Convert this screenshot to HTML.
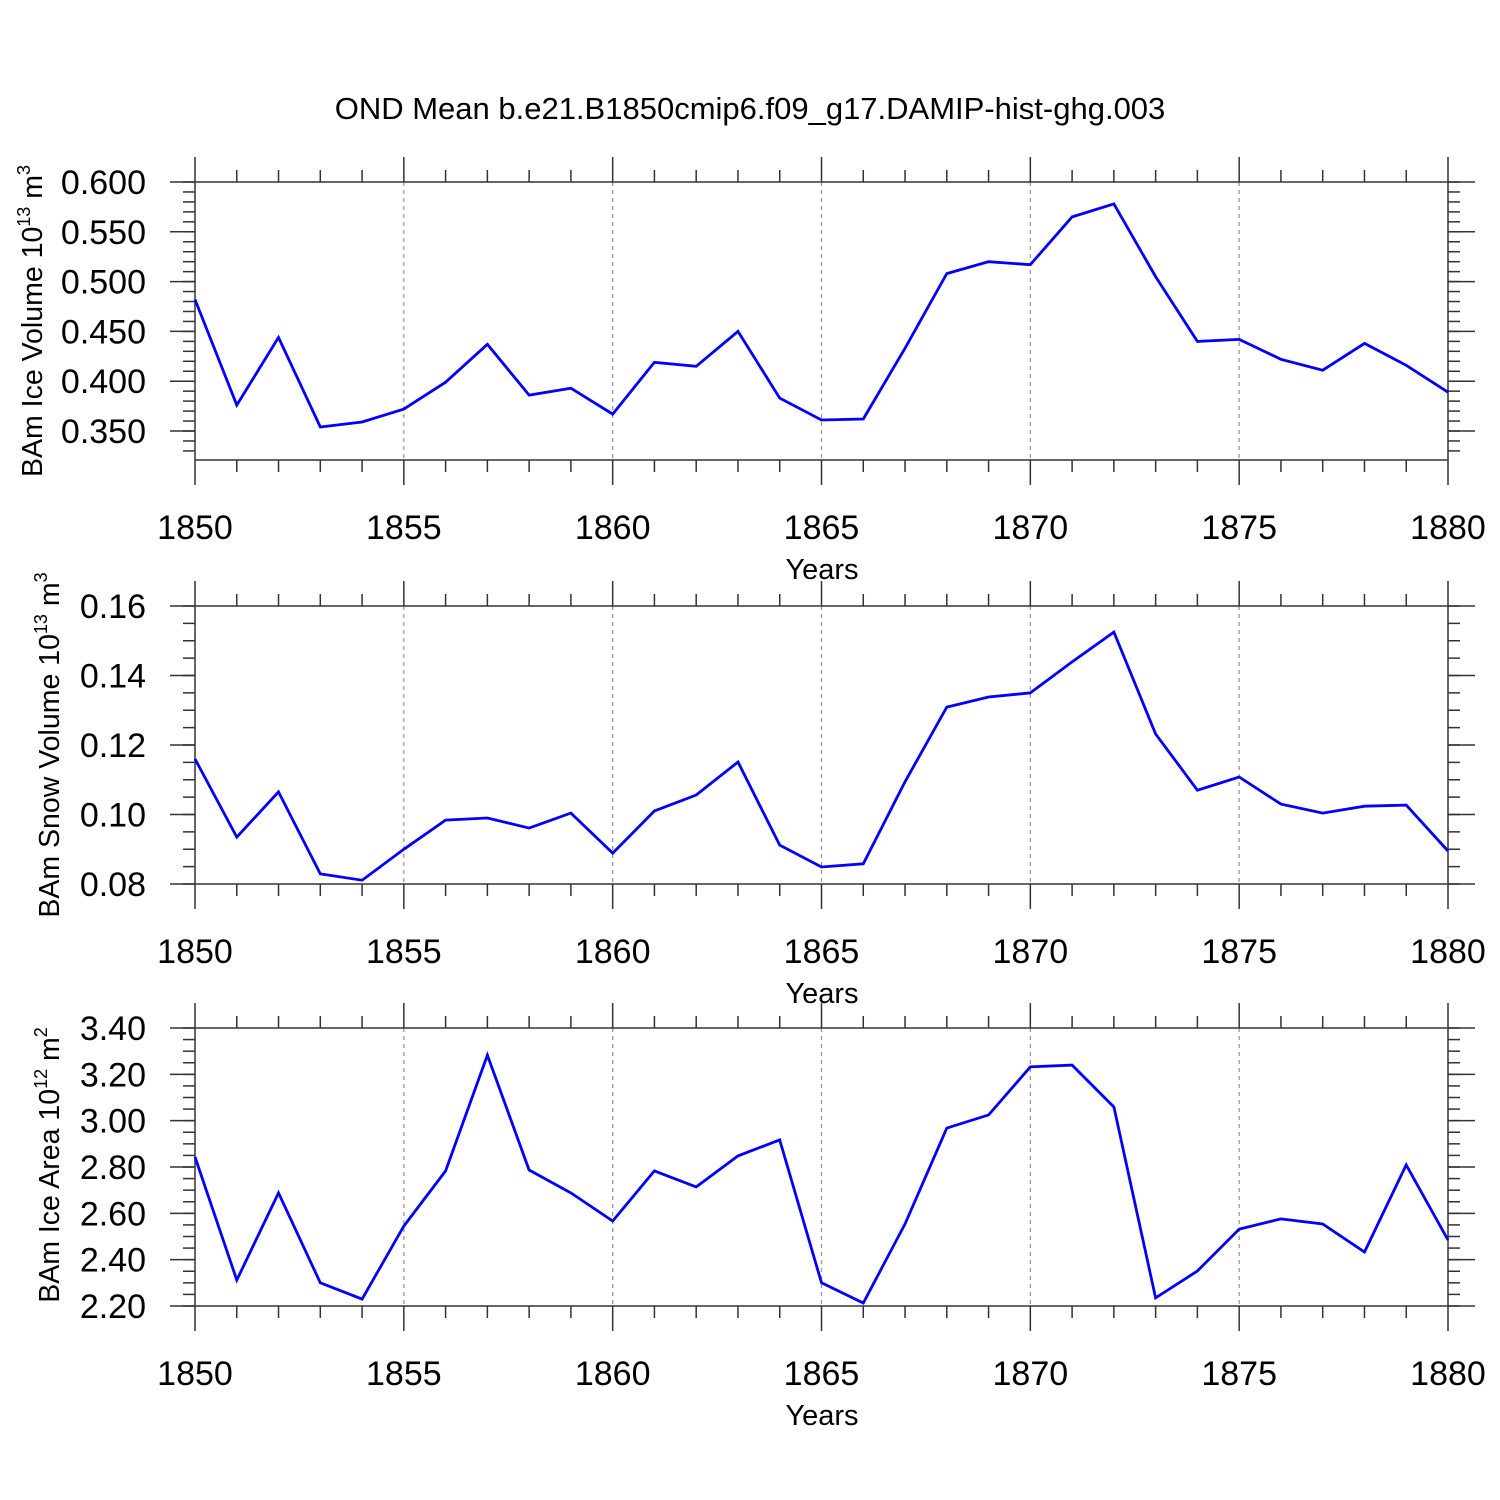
<!DOCTYPE html>
<html><head><meta charset="utf-8"><style>
html,body{margin:0;padding:0;background:#fff;}
svg{display:block;font-family:"Liberation Sans",Arial,sans-serif;}
</style></head><body>
<svg id="c" width="1500" height="1500" viewBox="0 0 1500 1500" xmlns="http://www.w3.org/2000/svg">
<text x="750" y="119" font-size="31" text-anchor="middle">OND Mean b.e21.B1850cmip6.f09_g17.DAMIP-hist-ghg.003</text>
</svg>
<script>
const years = [1850,1851,1852,1853,1854,1855,1856,1857,1858,1859,1860,1861,1862,1863,1864,1865,1866,1867,1868,1869,1870,1871,1872,1873,1874,1875,1876,1877,1878,1879,1880];
const iceVolume = [0.482,0.376,0.444,0.354,0.359,0.372,0.399,0.437,0.386,0.393,0.367,0.419,0.415,0.450,0.383,0.361,0.362,0.433,0.508,0.520,0.517,0.565,0.578,0.505,0.440,0.442,0.422,0.411,0.438,0.416,0.389];
const snowVolume = [0.116,0.0935,0.1065,0.0829,0.0811,0.090,0.0984,0.099,0.0961,0.1004,0.0889,0.101,0.1056,0.1151,0.0912,0.0849,0.0858,0.1094,0.1309,0.1338,0.135,0.1439,0.1525,0.1232,0.107,0.1108,0.103,0.1004,0.1024,0.1027,0.0895];
const iceArea = [2.843,2.312,2.688,2.30,2.230,2.545,2.783,3.283,2.787,2.688,2.567,2.783,2.714,2.848,2.917,2.30,2.213,2.554,2.968,3.025,3.232,3.240,3.059,2.235,2.351,2.532,2.576,2.554,2.433,2.809,2.485];
const xTickLabels = ["1850","1855","1860","1865","1870","1875","1880"];
const iceVolTicks = ["0.350","0.400","0.450","0.500","0.550","0.600"];
const snowTicks = ["0.08","0.10","0.12","0.14","0.16"];
const areaTicks = ["2.20","2.40","2.60","2.80","3.00","3.20","3.40"];

const NS="http://www.w3.org/2000/svg";
const svg=document.getElementById('c');
function mk(tag,attrs,parent){const e=document.createElementNS(NS,tag);for(const k in attrs)e.setAttribute(k,attrs[k]);(parent||svg).appendChild(e);return e;}
const X0=195,X1=1448,XMIN=1850,XMAX=1880;
const xs=v=>X0+(v-XMIN)/(XMAX-XMIN)*(X1-X0);

function panel(cfg){
  const g=mk('g',{});
  
  
  const ys=v=>cfg.top+(cfg.vmax-v)/(cfg.vmax-cfg.vmin)*(cfg.bot-cfg.top);
  for(let yr=1855;yr<=1875;yr+=5){
    const l=mk('line',{x1:xs(yr),x2:xs(yr),y1:cfg.top,y2:cfg.bot,stroke:'#999','stroke-width':1.3,'stroke-dasharray':'4,4'},g);
    
    
  }
  const st={stroke:'#333','stroke-width':1.5};
  mk('rect',{x:X0,y:cfg.top,width:X1-X0,height:cfg.bot-cfg.top,fill:'none',...st},g);
  for(let yr=XMIN;yr<=XMAX;yr++){
    const major=(yr%5===0), L=major?25:12, x=xs(yr);
    mk('line',{x1:x,x2:x,y1:cfg.top,y2:cfg.top-L,...st},g);
    mk('line',{x1:x,x2:x,y1:cfg.bot,y2:cfg.bot+L,...st},g);
  }
  xTickLabels.forEach(t=>{
    const tx=mk('text',{x:xs(+t),y:cfg.bot+79,'font-size':34,'text-anchor':'middle'},g);
    tx.textContent=t;
    
    
  });
  const xt=mk('text',{x:822,y:cfg.bot+119,'font-size':29,'text-anchor':'middle'},g);
  xt.textContent='Years';
  
  
  const n=Math.round((cfg.vmax-cfg.vmin)/cfg.minor);
  for(let i=0;i<=n;i++){
    const v=cfg.vmax-i*cfg.minor, y=ys(v);
    if(y>cfg.bot+0.5) break;
    mk('line',{x1:X0,x2:X0-12,y1:y,y2:y,...st},g);
    mk('line',{x1:X1,x2:X1+12,y1:y,y2:y,...st},g);
  }
  cfg.ticks.forEach(t=>{
    const y=ys(parseFloat(t));
    mk('line',{x1:X0,x2:X0-25,y1:y,y2:y,...st},g);
    mk('line',{x1:X1,x2:X1+27,y1:y,y2:y,...st},g);
    const tx=mk('text',{x:146,y:y+12,'font-size':34,'text-anchor':'end'},g);
    tx.textContent=t;
    
    
  });
  const yt=mk('text',{x:0,y:0,'font-size':28.5,'text-anchor':'middle',transform:`translate(${cfg.tx},${cfg.ty}) rotate(-90)`},g);
  
  
  const a=mk('tspan',{},yt);a.textContent=cfg.label+' 10';
  const b=mk('tspan',{dy:-12,'font-size':18},yt);b.textContent=cfg.exp;
  const c=mk('tspan',{dy:12},yt);c.textContent=' m';
  const d=mk('tspan',{dy:-12,'font-size':18},yt);d.textContent=cfg.unit;
  const pts=years.map((yr,i)=>xs(yr).toFixed(1)+','+ys(cfg.data[i]).toFixed(1)).join(' ');
  const pl=mk('polyline',{points:pts,fill:'none',stroke:'#0000ff','stroke-width':2.8,'stroke-linejoin':'miter'},g);
  
  
}
panel({name:'ice-volume-panel',top:182,bot:460,vmax:0.6,vmin:0.6-278/996,minor:0.01,ticks:iceVolTicks,data:iceVolume,label:'BAm Ice Volume',exp:'13',unit:'3',tx:42,ty:321});
panel({name:'snow-volume-panel',top:606,bot:884,vmax:0.16,vmin:0.08,minor:0.005,ticks:snowTicks,data:snowVolume,label:'BAm Snow Volume',exp:'13',unit:'3',tx:59,ty:745});
panel({name:'ice-area-panel',top:1028,bot:1306,vmax:3.4,vmin:2.2,minor:0.05,ticks:areaTicks,data:iceArea,label:'BAm Ice Area',exp:'12',unit:'2',tx:59,ty:1165});
</script>
</body></html>
